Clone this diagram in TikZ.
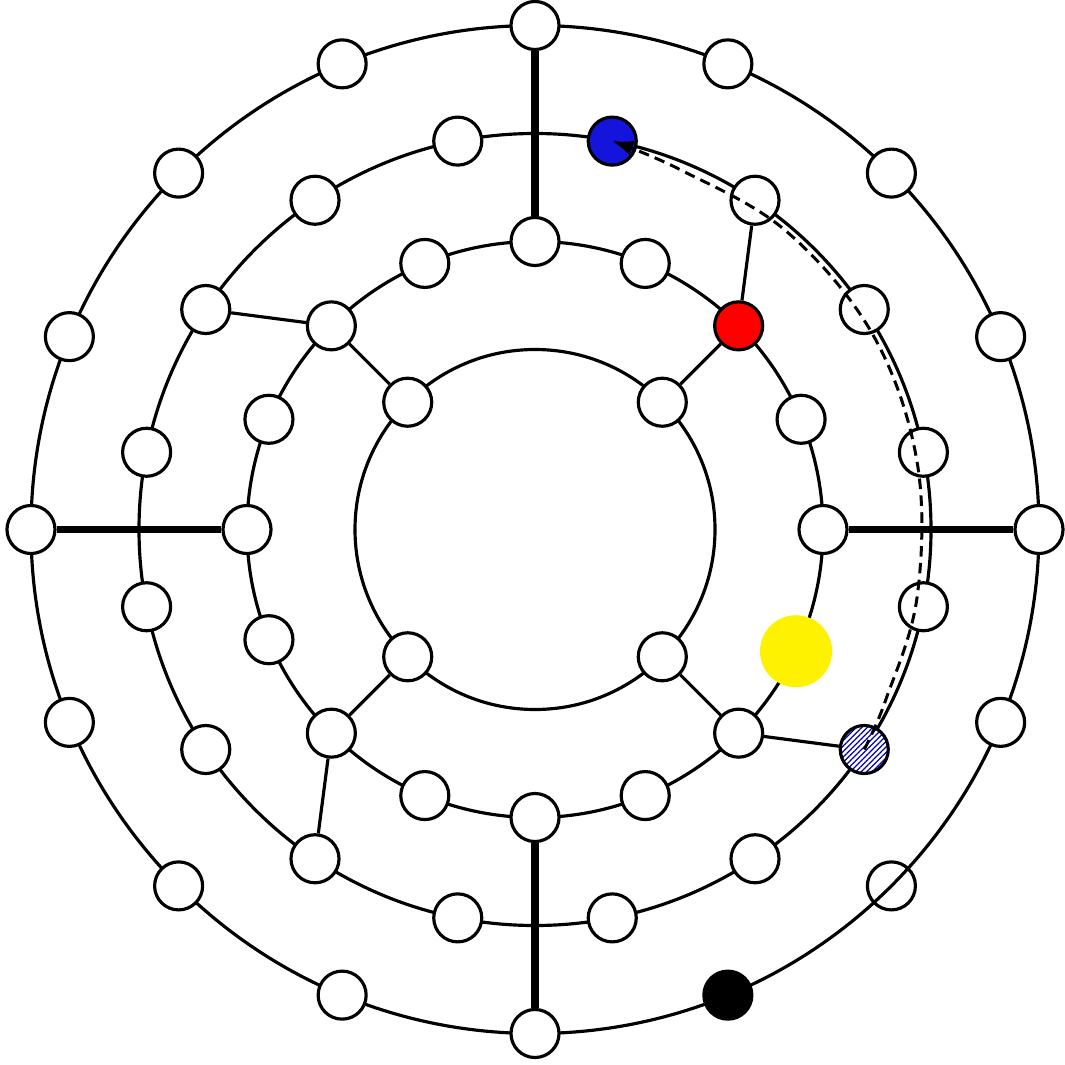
\documentclass[tikz,border=0pt]{standalone}
\usepackage{tikz}
\usetikzlibrary{arrows.meta,patterns.meta}
\definecolor{dotblue}{RGB}{20,20,220}

\begin{document}
\begin{tikzpicture}[x=0.01cm,y=0.01cm,
  vtx/.style={circle,draw,line width=0.9pt,fill=white,inner sep=0pt,minimum size=0.48cm},
  link/.style={line width=0.9pt},
  bar/.style={line width=2pt},
  flow/.style={line width=0.85pt,dash pattern=on 3pt off 1.8pt,-{Latex[length=6pt,width=4.5pt]}}]
  \useasboundingbox (-535,-534.5) rectangle (530,529.5);
  \foreach \r in {180,288,396,504}
    \draw[link] (0,0) circle[radius=\r];
  % inner ring
  \foreach \k in {0,1,2,3}
    \node[vtx] (a\k) at (45+90*\k:180) {};
  % second ring
  \foreach \k in {0,1,3,4,5,6,7,8,9,10,11,12,13,14}
    \node[vtx] (b\k) at (22.5*\k:288) {};
  \node[vtx,fill=red] (b2) at (45:288) {};
  \node[circle,fill=yellow,inner sep=0pt,minimum size=0.72cm] (b15) at (335:288) {};
  % third ring
  \foreach \k in {0,1,2,4,5,6,7,8,9,10,11,12,13,15}
    \node[vtx] (c\k) at (11.25+22.5*\k:396) {};
  \node[vtx,fill=dotblue] (c3) at (78.75:396) {};
  \node[vtx,preaction={fill=white},pattern={Lines[angle=45,distance=1.1pt,line width=0.35pt]},pattern color=blue!70!black] (c14) at (326.25:396) {};
  % outer ring
  \foreach \k in {0,1,2,3,4,5,6,7,8,9,10,11,12,15}
    \node[vtx] (d\k) at (22.5*\k:504) {};
  \node[vtx,fill=black] (d13) at (292.5:504) {};
  \node[vtx,fill=none] (d14) at (315:504) {};

  \draw[bar] (d4) -- (b4);
  \draw[bar] (b12) -- (d12);
  \draw[bar] (d8) -- (b8);
  \draw[bar] (b0) -- (d0);
  \draw[link] (c6) -- (b6) -- (a1);
  \draw[link] (a0) -- (b2) -- (c2);
  \draw[link] (a2) -- (b10) -- (c10);
  \draw[link] (a3) -- (b14) -- (c14);

  \draw[flow] plot[smooth,tension=0.6] coordinates
    {(c14.center) (334:390) (350:388) (10:388) (30:390) (50:390) (68:388) (c3.center)};
\end{tikzpicture}
\end{document}
